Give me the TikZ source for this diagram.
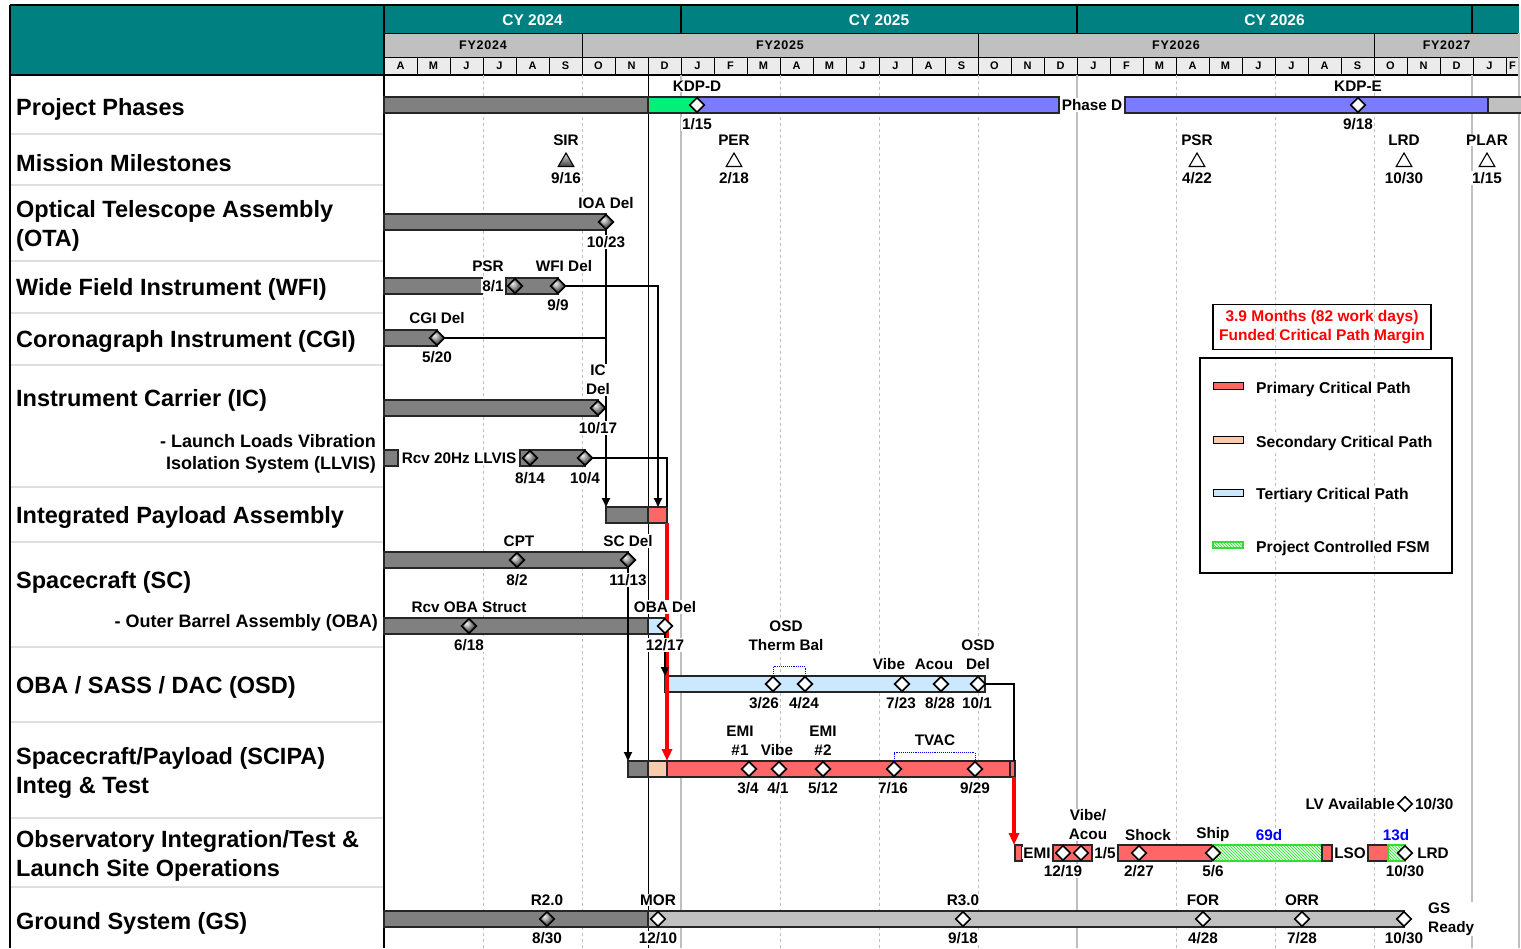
\documentclass[tikz,border=0pt]{standalone}
\usepackage{fontspec}
\setmainfont{Liberation Sans}
\usetikzlibrary{shapes.geometric,arrows.meta,patterns}

\definecolor{hdteal}{HTML}{008080}
\definecolor{hdgray}{HTML}{C0C0C0}
\definecolor{mogray}{HTML}{EBEBEB}
\definecolor{bardark}{HTML}{808080}
\definecolor{barlight}{HTML}{C0C0C0}
\definecolor{critred}{HTML}{FF6666}
\definecolor{critpeach}{HTML}{F8CBAD}
\definecolor{critblue}{HTML}{CCE8FF}
\definecolor{phaseblue}{HTML}{7B7BFF}
\definecolor{phasegreen}{HTML}{00F07A}
\definecolor{gridgray}{HTML}{BFBFBF}
\definecolor{fsmgreen}{HTML}{33DD33}

\tikzset{
  msw/.style={diamond, draw=black, line width=1.6pt, fill=white, inner sep=0pt, minimum size=15pt},
  msd/.style={msw, ball color=gray!75},
  tri/.style={regular polygon, regular polygon sides=3, draw=black, line width=1.1pt, fill=white, inner sep=0pt, minimum size=18pt},
  tg/.style={font=\bfseries\fontsize{15.3}{19}\selectfont, inner sep=1pt, fill=white, align=center},
  rowname/.style={font=\bfseries\fontsize{23.5}{29}\selectfont, anchor=west, align=left, inner sep=0pt},
  subname/.style={font=\bfseries\fontsize{18}{22}\selectfont, anchor=east, align=right, inner sep=0pt},
  mocell/.style={draw=black, fill=mogray, line width=0.8pt, minimum width=33pt, minimum height=18pt, inner sep=0pt, font=\bfseries\fontsize{11}{12}\selectfont},
  conn/.style={line width=1.8pt},
  arr/.style={conn, -{Triangle[length=9pt,width=8pt]}},
  critpath/.style={line width=3.2pt, red, -{Triangle[length=12pt,width=10pt]}},
  fsm/.style={draw=fsmgreen, line width=1.2pt, fill=green!12, postaction={pattern=north west lines, pattern color=fsmgreen}},
}

% gantt bar: x1, x2, y centre, colour
\newcommand{\gbar}[4]{\draw[fill=#4, line width=1.2pt, draw=black!85] (#1,#3-8) rectangle (#2,#3+8);}

\begin{document}
\begin{tikzpicture}[x=1pt,y=-1pt]
\useasboundingbox (0,0) rectangle (1521,948);
\clip (0,0) rectangle (1521,948);
\fill[white] (0,0) rectangle (1521,948);

% header
\fill[hdteal] (10,5) rectangle (1519,33);
\fill[hdteal] (10,33) rectangle (384,75);
\foreach \a/\b/\t [count=\i] in {384/582/FY2024,582/978/FY2025,978/1374/FY2026,1374/1519/FY2027}{
  \draw[fill=hdgray, line width=0.8pt] (\a,33) rectangle (\b,57);
  \node[font=\bfseries\fontsize{12.5}{13}\selectfont\addfontfeature{LetterSpace=6}] (fy\i) at ({(\a+\b)/2},45) {\t};
}
\foreach \m [count=\i from 0] in {A,M,J,J,A,S,O,N,D,J,F,M,A,M,J,J,A,S,O,N,D,J,F,M,A,M,J,J,A,S,O,N,D,J}
  \node[mocell] (mo\i) at ({384+33*\i+16.5},66) {\m};
\node[mocell, minimum width=13pt] (mo34) at (1512.5,66) {F};
\foreach \a/\b/\t [count=\i] in {384/681/CY 2024,681/1077/CY 2025,1077/1472/CY 2026}
  \node[text=white, font=\bfseries\fontsize{15.5}{16}\selectfont] (cy\i) at ({(\a+\b)/2},20) {\t};
\foreach \x in {681,1077,1472} \draw[line width=1.2pt] (\x,5) -- (\x,33);
\draw[line width=1.5pt] (10,5) -- (1519,5);
\draw[line width=1.2pt] (10,75) -- (1519,75);

% grid
\foreach \x in {483,582,780,879,978,1176,1275,1374} \draw[gridgray, dashed, line width=0.8pt] (\x,75) -- (\x,948);
\foreach \x in {681,1077,1472} \draw[gridgray, line width=2pt] (\x,75) -- (\x,948);
\draw[gridgray, line width=2pt] (1519,33) -- (1519,948);
\draw[line width=1pt] (648,75) -- (648,948);
\foreach \y in {134,185,261,313,365,487,542,647,722,818,887} \draw[gray!25, line width=1.2pt] (10,\y) -- (384,\y);
\draw[line width=1.6pt] (10,5) -- (10,948);
\draw[line width=1.2pt] (384,5) -- (384,948);

% row names
\node[rowname] (rPP) at (16,109) {Project Phases};
\node[rowname] (rMM) at (16,163) {Mission Milestones};
\node[rowname] (rOTA) at (16,226) {Optical Telescope Assembly\\(OTA)};
\node[rowname] (rWFI) at (16,289) {Wide Field Instrument (WFI)};
\node[rowname] (rCGI) at (16,341) {Coronagraph Instrument (CGI)};
\node[rowname] (rIC) at (16,400) {Instrument Carrier (IC)};
\node[subname] (rLL) at (376,454) {- Launch Loads Vibration\\Isolation System (LLVIS)};
\node[rowname] (rIPA) at (16,517) {Integrated Payload Assembly};
\node[rowname] (rSC) at (16,582) {Spacecraft (SC)};
\node[subname] (rOBA) at (378,623) {- Outer Barrel Assembly (OBA)};
\node[rowname] (rOSD) at (16,687) {OBA / SASS / DAC (OSD)};
\node[rowname] (rSCI) at (16,773) {Spacecraft/Payload (SCIPA)\\Integ \& Test};
\node[rowname] (rOBS) at (16,856) {Observatory Integration/Test \&\\Launch Site Operations};
\node[rowname] (rGS) at (16,923) {Ground System (GS)};

% bars
\gbar{384}{648}{105}{bardark}
\gbar{648}{697}{105}{phasegreen}
\gbar{697}{1059}{105}{phaseblue}
\gbar{1125}{1488}{105}{phaseblue}
\gbar{1488}{1530}{105}{barlight}
\gbar{384}{606}{222}{bardark}
\gbar{384}{482}{286}{bardark}
\gbar{506}{558}{286}{bardark}
\gbar{384}{437}{338}{bardark}
\gbar{384}{598}{408}{bardark}
\gbar{384}{398}{458}{bardark}
\gbar{520}{585}{458}{bardark}
\gbar{606}{648}{515}{bardark}
\gbar{648}{667}{515}{critred}
\gbar{384}{628}{560}{bardark}
\gbar{384}{648}{626}{bardark}
\gbar{648}{665}{626}{critblue}
\gbar{665}{985}{684}{critblue}
\gbar{628}{648}{769}{bardark}
\gbar{648}{667}{769}{critpeach}
\gbar{667}{1010}{769}{critred}
\gbar{1010}{1015}{769}{critred}
\gbar{1015}{1022}{853}{critred}
\gbar{1053}{1092}{853}{critred}
\gbar{1118}{1213}{853}{critred}
\draw[fsm] (1213,845) rectangle (1322,861);
\gbar{1322}{1332}{853}{critred}
\gbar{1368}{1388}{853}{critred}
\draw[fsm] (1388,845) rectangle (1405,861);
\gbar{384}{648}{919}{bardark}
\gbar{648}{1404}{919}{barlight}

% links
\node[msd] (otadel) at (606,222) {};
\node[msd] (wfipsr) at (515,286) {};
\node[msd] (wfidel) at (558,286) {};
\node[msd] (cgidel) at (437,338) {};
\node[msd] (icdel) at (598,408) {};
\node[msd] (llvisa) at (530,458) {};
\node[msd] (llvisb) at (585,458) {};
\node[msd] (cpt) at (517,560) {};
\node[msd] (scdel) at (628,560) {};
\node[msd] (obastr) at (469,626) {};
\node[msw] (obadel) at (665,626) {};
\foreach \x [count=\i] in {773,805,902,941,978} \node[msw] (osd\i) at (\x,684) {};
\foreach \x [count=\i] in {749,779,823,894,975} \node[msw] (sci\i) at (\x,769) {};

\coordinate (ipao) at (606,507);
\coordinate (ipaw) at (658,507);
\coordinate (ipal) at (667,507);
\coordinate (ipabot) at (667,523);
\coordinate (scitop) at (667,761);
\coordinate (scis) at (628,761);
\coordinate (osdtop) at (665,676);
\coordinate (scie) at (1014,761);
\coordinate (scibot) at (1014,777);
\coordinate (obstop) at (1014,845);

\draw[arr] (otadel.south) -- (ipao);
\draw[conn] (cgidel.east) -- (cgidel.east -| otadel);
\draw[arr] (wfidel.east) -| (ipaw);
\draw[conn] (llvisb.east) -| (ipal);
\draw[critpath] (ipabot) -- (scitop);
\draw[arr] (scdel.south) -- (scis);
\draw[arr] (obadel.south) -- (osdtop);
\draw[conn] (osd5.east) -| (scie);
\draw[critpath] (scibot) -- (obstop);
\draw[blue, densely dotted, line width=0.9pt] (osd1.north) -- ++(0,-9) -| (osd2.north);
\draw[blue, densely dotted, line width=0.9pt] (sci4.north) -- ++(0,-8) -| (sci5.north);

% redraw milestones on top
\foreach \n in {otadel,wfipsr,wfidel,cgidel,icdel,llvisa,llvisb,cpt,scdel,obastr}
  \node[msd] at (\n) {};
\foreach \n in {obadel,osd1,osd2,osd3,osd4,osd5,sci1,sci2,sci3,sci4,sci5}
  \node[msw] at (\n) {};

% phases
\node[msw] (kdpd) at (697,105) {};
\node[msw] (kdpe) at (1358,105) {};
\node[tg] (tkdpd) at (697,86) {KDP-D};
\node[tg] (dkdpd) at (697,124) {1/15};
\node[tg] (tphd) at (1092,105) {Phase D};
\node[tg] (tkdpe) at (1358,86) {KDP-E};
\node[tg] (dkdpe) at (1358,124) {9/18};

% mission milestones
\node[tri, top color=gray!25, bottom color=black!75] (sir) at (566,162) {};
\foreach \x/\n in {734/per,1197/psr,1404/lrd,1487/plar} \node[tri] (\n) at (\x,162) {};
\foreach \x/\t/\d [count=\i] in {566/SIR/9\slash16,734/PER/2\slash18,1197/PSR/4\slash22,1404/LRD/10\slash30,1487/PLAR/1\slash15}{
  \node[tg] (tmm\i) at (\x,140) {\t};
  \node[tg] (dmm\i) at (\x,178) {\d};
}

% OTA, WFI, CGI, IC, LLVIS
\node[tg] (tota) at (606,203) {IOA Del};
\node[tg] (dota) at (606,242) {10/23};
\node[tg] (twpsr) at (488,266) {PSR};
\node[tg] (twdel) at (564,266) {WFI Del};
\node[tg] (dwpsr) at (493,286) {8/1};
\node[tg] (dwdel) at (558,305) {9/9};
\node[tg] (tcgi) at (437,318) {CGI Del};
\node[tg] (dcgi) at (437,357) {5/20};
\node[tg] (tic) at (598,380) {IC\\Del};
\node[tg] (dic) at (598,428) {10/17};
\node[tg] (tll) at (459,458) {Rcv 20Hz LLVIS};
\node[tg] (dlla) at (530,478) {8/14};
\node[tg] (dllb) at (585,478) {10/4};

% SC, OBA
\node[tg] (tcpt) at (519,541) {CPT};
\node[tg] (tscd) at (628,541) {SC Del};
\node[tg] (dcpt) at (517,580) {8/2};
\node[tg] (dscd) at (628,580) {11/13};
\node[tg] (toba) at (469,607) {Rcv OBA Struct};
\node[tg] (tobd) at (665,607) {OBA Del};
\node[tg] (doba) at (469,645) {6/18};
\node[tg] (dobd) at (665,645) {12/17};

% OSD
\node[tg] (tosd1) at (786,636) {OSD\\Therm Bal};
\node[tg] (tosd3) at (889,664) {Vibe};
\node[tg] (tosd4) at (934,664) {Acou};
\node[tg] (tosd5) at (978,655) {OSD\\Del};
\foreach \x/\d [count=\i] in {764/3\slash26,804/4\slash24,901/7\slash23,940/8\slash28,977/10\slash1}
  \node[tg] (dosd\i) at (\x,703) {\d};

% SCIPA
\node[tg] (tsci1) at (740,741) {EMI\\\#1};
\node[tg] (tsci2) at (777,750) {Vibe};
\node[tg] (tsci3) at (823,741) {EMI\\\#2};
\node[tg] (tsci4) at (935,740) {TVAC};
\foreach \x/\d [count=\i] in {748/3\slash4,778/4\slash1,823/5\slash12,893/7\slash16,975/9\slash29}
  \node[tg] (dsci\i) at (\x,788) {\d};

% observatory I&T
\foreach \x/\n in {1063/obs1,1081/obs2,1139/obs3,1213/obs4,1405/obs5} \node[msw] (\n) at (\x,853) {};
\node[msw] (lvav) at (1405,804) {};
\node[tg, anchor=east] (tlv) at (1396,804) {LV Available};
\node[tg, anchor=west] (dlv) at (1414,804) {10/30};
\node[tg] (tobs1) at (1037,853) {EMI};
\node[tg] (tobs2) at (1105,853) {1/5};
\node[tg] (tobs3) at (1350,853) {LSO};
\node[tg] (tobs4) at (1433,853) {LRD};
\node[tg] (tvib) at (1088,825) {Vibe/\\Acou};
\node[tg] (tshk) at (1148,835) {Shock};
\node[tg] (tshp) at (1213,835) {Ship};
\node[tg, text=blue] (t69) at (1269,835) {69d};
\node[tg, text=blue] (t13) at (1396,835) {13d};
\foreach \x/\d [count=\i] in {1063/12\slash19,1139/2\slash27,1213/5\slash6,1405/10\slash30}
  \node[tg] (dobs\i) at (\x,871) {\d};

% ground system
\node[msd] (gs1) at (547,919) {};
\foreach \x [count=\i from 2] in {658,963,1203,1302,1404} \node[msw] (gs\i) at (\x,919) {};
\foreach \x/\t/\d [count=\i] in {547/R2.0/8\slash30,658/MOR/12\slash10,963/R3.0/9\slash18,1203/FOR/4\slash28,1302/ORR/7\slash28,1404//10\slash30}{
  \node[tg] (tgs\i) at (\x,900) {\t};
  \node[tg] (dgs\i) at (\x,938) {\d};
}
\node[tg, anchor=west, align=left] (tgsr) at (1427,919) {GS\\Ready};

% legend
\node[draw=black, line width=1.5pt, text=red, font=\bfseries\fontsize{15.5}{19}\selectfont, align=center, minimum width=218pt, minimum height=45pt, inner sep=2pt] (fcpm) at (1322,327) {3.9 Months (82 work days)\\Funded Critical Path Margin};
\draw[line width=1.6pt] (1200,358) rectangle (1452,573);
\draw[fill=critred, line width=1pt] (1213,382) rectangle (1243,389);
\draw[fill=critpeach, line width=1pt] (1213,436) rectangle (1243,443);
\draw[fill=critblue, line width=1pt] (1213,489) rectangle (1243,496);
\draw[fsm] (1213,542) rectangle (1243,548);
\foreach \y/\t [count=\i] in {389/Primary Critical Path,443/Secondary Critical Path,495/Tertiary Critical Path,548/Project Controlled FSM}
  \node[tg, anchor=west, font=\bfseries\fontsize{15.7}{19}\selectfont] (leg\i) at (1255,\y) {\t};
\end{tikzpicture}
\end{document}
